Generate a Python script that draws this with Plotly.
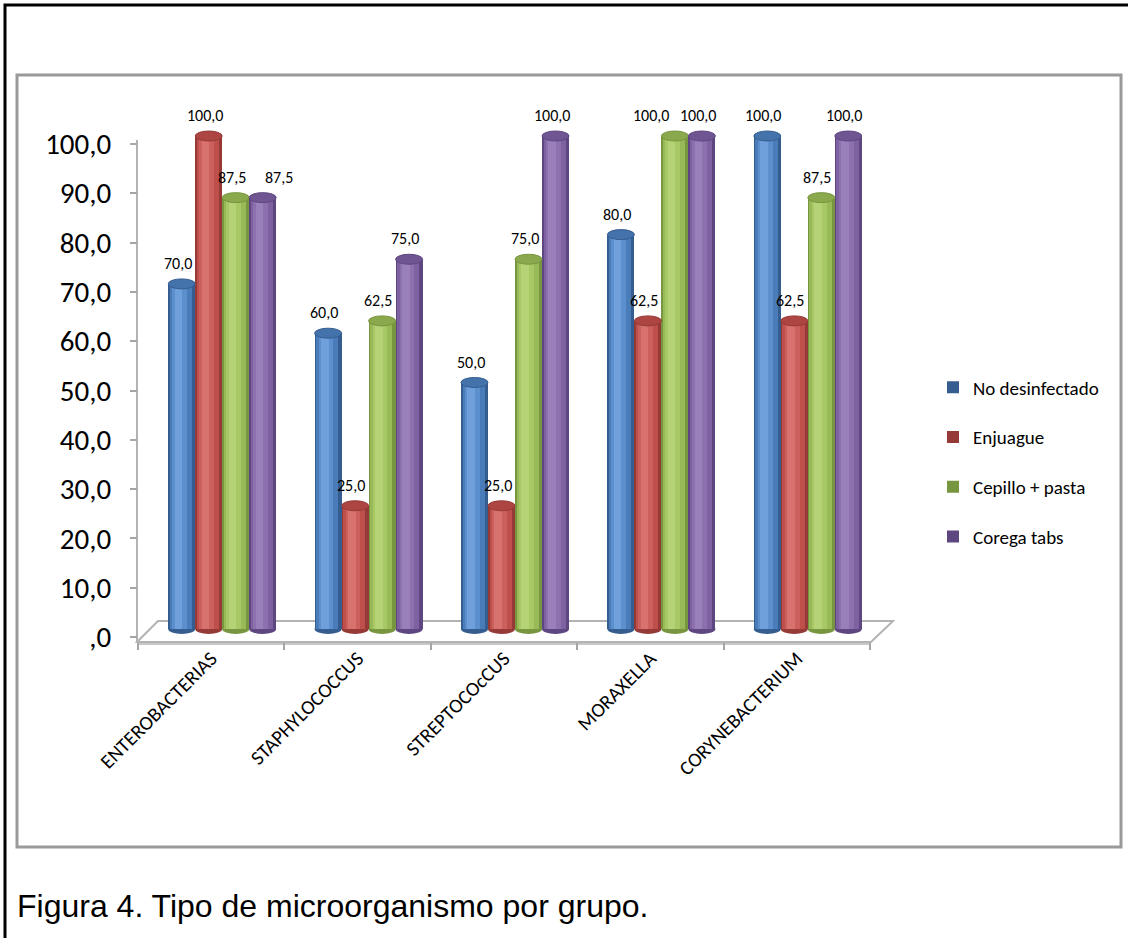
import plotly.graph_objects as go

# --- data -------------------------------------------------------------
categories = ["ENTEROBACTERIAS", "STAPHYLOCOCCUS", "STREPTOCOcCUS", "MORAXELLA", "CORYNEBACTERIUM"]
series_names = ["No desinfectado", "Enjuague", "Cepillo + pasta", "Corega tabs"]
no_desinfectado = [70.0, 60.0, 50.0, 80.0, 100.0]
enjuague = [100.0, 25.0, 25.0, 62.5, 62.5]
cepillo_pasta = [87.5, 62.5, 75.0, 100.0, 87.5]
corega_tabs = [87.5, 75.0, 100.0, 100.0, 100.0]
y_ticks = [0, 10, 20, 30, 40, 50, 60, 70, 80, 90, 100]
y_ticktext = [",0", "10,0", "20,0", "30,0", "40,0", "50,0", "60,0", "70,0", "80,0", "90,0", "100,0"]
caption = "Figura 4. Tipo de microorganismo por grupo."

series_values = [no_desinfectado, enjuague, cepillo_pasta, corega_tabs]

# --- styling ----------------------------------------------------------
W, H = 1128, 938
SANS = "Carlito, Lato, Liberation Sans, sans-serif"

# (edge, base, light, highlight, cap) shades for the cylinder look
palette = [
    ("#355d8f", "#4a7cba", "#5c8fcd", "#6fa0db", "#4472aa"),
    ("#953a37", "#be4f4b", "#cc605c", "#d8726e", "#ad4542"),
    ("#78953f", "#98b957", "#a8c866", "#b5d376", "#8aa94c"),
    ("#5e4680", "#7d61a0", "#8c71ae", "#9a80bb", "#6f5591"),
]

def px_x(p):
    return p / W

def px_y(p):
    return 1 - p / H

# plot geometry (pixels)
x_left, x_right = 138, 870
y_top, y_bot = 100, 660
y_zero_px, px_per_unit = 637, 4.93
y_range = [(y_zero_px - y_bot) / px_per_unit, (y_zero_px - y_top) / px_per_unit]
cat_px = (x_right - x_left) / len(categories)

# bars are drawn on overlaid axes, offset for the 3-D depth
bar_dx = 11 / cat_px
bar_dy = 8 / px_per_unit
x2_range = [-0.5 - bar_dx, len(categories) - 0.5 - bar_dx]
y2_range = [y_range[0] - bar_dy, y_range[1] - bar_dy]

bar_w = 27 / cat_px
cap_h = 10 / px_per_unit

# label nudges (pixels) where labels would collide
label_nudge = {(0, 3): 20, (3, 2): -20}

fig = go.Figure()

# hidden trace that carries the category axis
fig.add_trace(go.Scatter(x=categories, y=[None] * len(categories), mode="markers",
                         marker=dict(opacity=0), showlegend=False, hoverinfo="skip",
                         xaxis="x", yaxis="y"))

shapes = []
annotations = []

# floor of the 3-D plot area
floor = (f"M {px_x(137)},{px_y(642)} L {px_x(158)},{px_y(621)} L {px_x(893)},{px_y(621)} "
         f"L {px_x(871)},{px_y(642)} Z")
shapes.append(dict(type="path", path=floor, xref="paper", yref="paper",
                   fillcolor="white", line=dict(color="#b3b3b3", width=2), layer="below"))
shapes.append(dict(type="line", xref="paper", yref="paper", x0=px_x(137), x1=px_x(871),
                   y0=px_y(644), y1=px_y(644), line=dict(color="#c8c8c8", width=2), layer="below"))
# vertical value axis line
shapes.append(dict(type="line", xref="paper", yref="y", x0=px_x(137), x1=px_x(137),
                   y0=-1, y1=100.8, line=dict(color="#b3b3b3", width=2), layer="below"))

offsets = [-1.5, -0.5, 0.5, 1.5]
for si, (name, vals) in enumerate(zip(series_names, series_values)):
    edge, base, light, hi, cap = palette[si]
    centers = [ci + offsets[si] * bar_w for ci in range(len(categories))]
    layers = [
        (1.0, 0.0, edge, True),
        (0.82, -0.03, base, False),
        (0.55, -0.08, light, False),
        (0.28, -0.12, hi, False),
    ]
    for frac, shift, color, legend in layers:
        fig.add_trace(go.Bar(
            x=[c + shift * bar_w for c in centers], y=vals, width=bar_w * frac,
            marker=dict(color=color, line=dict(width=0)),
            name=name, showlegend=legend, legendgroup=name,
            xaxis="x2", yaxis="y2", hoverinfo="skip" if not legend else None,
        ))
    for ci, (c, v) in enumerate(zip(centers, vals)):
        # rounded bottom and top of each cylinder
        shapes.append(dict(type="circle", xref="x2", yref="y2",
                           x0=c - bar_w / 2, x1=c + bar_w / 2, y0=-cap_h / 2, y1=cap_h / 2,
                           fillcolor=edge, line=dict(width=0), layer="below"))
        shapes.append(dict(type="circle", xref="x2", yref="y2",
                           x0=c - bar_w / 2, x1=c + bar_w / 2, y0=v - cap_h / 2, y1=v + cap_h / 2,
                           fillcolor=cap, line=dict(color=edge, width=1), layer="above"))
        annotations.append(dict(
            xref="x2", yref="y2", x=c, y=v, text=f"{v:.1f}".replace(".", ","),
            showarrow=False, yanchor="bottom", yshift=9,
            xshift=-4 + label_nudge.get((ci, si), 0),
            font=dict(family=SANS, size=16, color="black")))

# chart frame and outer page frame
shapes.append(dict(type="rect", xref="paper", yref="paper", x0=px_x(17), x1=px_x(1121),
                   y0=px_y(847), y1=px_y(75), line=dict(color="#9a9a9a", width=3),
                   fillcolor="rgba(0,0,0,0)", layer="below"))
shapes.append(dict(type="rect", xref="paper", yref="paper", x0=px_x(5), x1=px_x(1140),
                   y0=px_y(960), y1=px_y(5), line=dict(color="black", width=3),
                   fillcolor="rgba(0,0,0,0)", layer="below"))

annotations.append(dict(xref="paper", yref="paper", x=px_x(15), y=px_y(906),
                        xanchor="left", yanchor="middle", text=caption, showarrow=False,
                        font=dict(family="Liberation Sans, Arial, sans-serif", size=32,
                                  color="black")))

fig.update_layout(
    width=W, height=H,
    margin=dict(l=0, r=0, t=0, b=0, autoexpand=False),
    paper_bgcolor="white", plot_bgcolor="rgba(0,0,0,0)",
    barmode="overlay", bargap=0,
    shapes=shapes, annotations=annotations,
    xaxis=dict(type="category", categoryorder="array", categoryarray=categories,
               range=[-0.5, len(categories) - 0.5], domain=[px_x(x_left), px_x(x_right)],
               anchor="free", position=px_y(642), showline=False, showgrid=False,
               zeroline=False, ticks="outside", tickson="boundaries", ticklen=7,
               tickcolor="#a6a6a6", tickwidth=2, tickangle=-45, automargin=False,
               tickfont=dict(family=SANS, size=20, color="black")),
    yaxis=dict(range=y_range, domain=[px_y(y_bot), px_y(y_top)],
               tickvals=y_ticks, ticktext=y_ticktext, showline=False, showgrid=False,
               zeroline=False, ticks="outside", ticklen=7, tickcolor="#a6a6a6", tickwidth=2,
               ticklabelstandoff=13, automargin=False,
               tickfont=dict(family=SANS, size=29, color="black")),
    xaxis2=dict(overlaying="x", range=x2_range, visible=False),
    yaxis2=dict(overlaying="y", range=y2_range, visible=False),
    legend=dict(x=px_x(933), y=px_y(462), xanchor="left", yanchor="middle",
                font=dict(family=SANS, size=19, color="black"),
                tracegroupgap=22, bgcolor="rgba(0,0,0,0)", itemclick=False),
    showlegend=True,
)

fig.write_html("out.html")
